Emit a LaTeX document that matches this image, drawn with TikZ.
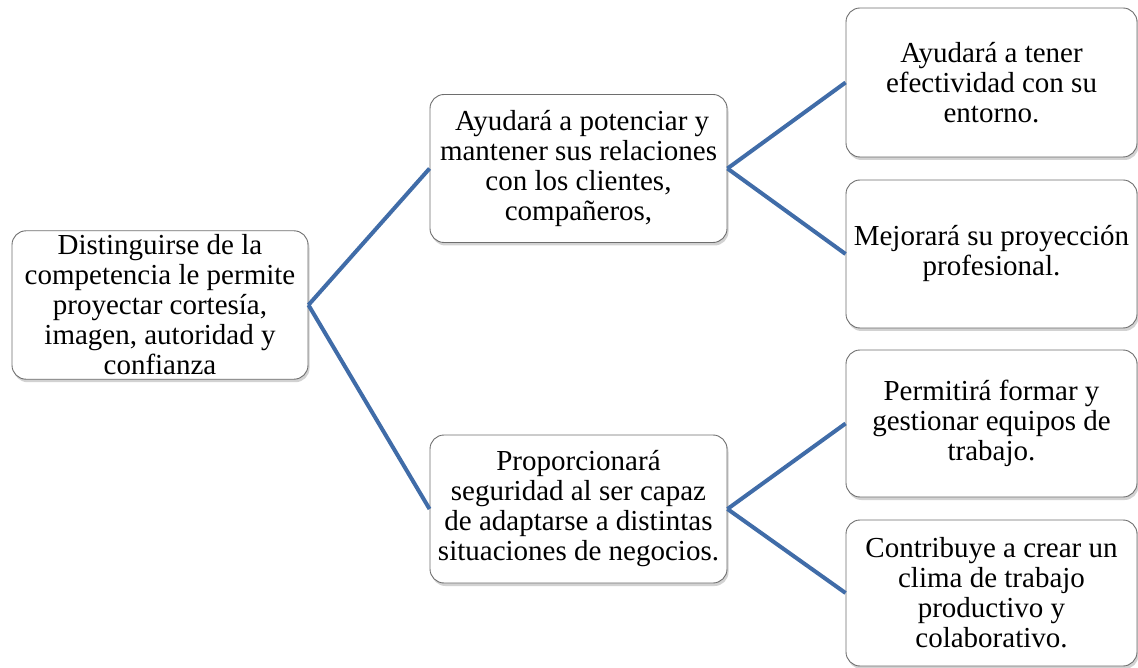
\documentclass[tikz,border=0pt]{standalone}
\usepackage{fontspec}
\setmainfont{Liberation Serif}
\usepackage{tikz}
\usetikzlibrary{shadows}
\definecolor{linkblue}{RGB}{64,108,168}
\definecolor{boxgray}{RGB}{110,110,110}
\tikzset{box/.style={draw=boxgray, line width=0.9pt, fill=white,
    rounded corners=14pt, align=center, inner sep=4pt,
    font=\fontsize{29}{30}\selectfont,
    drop shadow={shadow xshift=1.5pt, shadow yshift=-3pt, fill=black!35}},
  link/.style={linkblue, line width=4pt}}

\begin{document}
\begin{tikzpicture}[x=1pt, y=-1pt]
      \useasboundingbox (0, 0) rectangle (1138, 668);

      % root
      \node [box, minimum width=296pt, minimum height=146pt] (root) at (160, 305)
        {Distinguirse de la\\competencia le permite\\proyectar cortesía,\\imagen, autoridad y\\confianza};

      % middle column
      \node [box, minimum width=297pt, minimum height=148pt] (mtop) at (578.5, 168.5)
        {\ Ayudará a potenciar y\\mantener sus relaciones\\con los clientes,\\compañeros,};
      \node [box, minimum width=297pt, minimum height=148pt] (mbot) at (578.5, 509)
        {Proporcionará\\seguridad al ser capaz\\de adaptarse a distintas\\situaciones de negocios.};

      % right column
      \node [box, minimum width=291pt, minimum height=149pt] (ra) at (991.5, 82.5)
        {Ayudará a tener\\efectividad con su\\entorno.};
      \node [box, minimum width=291pt, minimum height=148pt] (rb) at (991.5, 254)
        {Mejorará su proyección\\profesional.};
      \node [box, minimum width=291pt, minimum height=147pt] (rc) at (991.5, 423.5)
        {Permitirá formar y\\gestionar equipos de\\trabajo.};
      \node [box, minimum width=291pt, minimum height=146pt] (rd) at (991.5, 593)
        {Contribuye a crear un\\clima de trabajo\\productivo y\\colaborativo.};

      \draw [link] (root.east) -- (mtop.west);
      \draw [link] (root.east) -- (mbot.west);
      \draw [link] (mtop.east) -- (ra.west);
      \draw [link] (mtop.east) -- (rb.west);
      \draw [link] (mbot.east) -- (rc.west);
      \draw [link] (mbot.east) -- (rd.west);
    \end{tikzpicture}
\end{document}
